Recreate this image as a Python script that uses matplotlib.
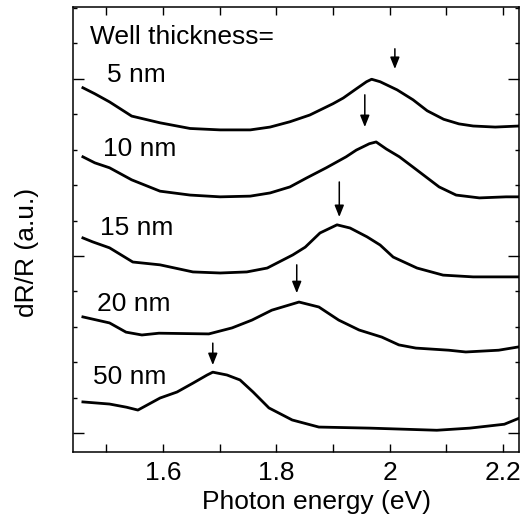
import matplotlib
matplotlib.use('Agg')
import matplotlib.pyplot as plt
from matplotlib.ticker import MultipleLocator, FuncFormatter

plt.rcParams['font.family'] = ['Liberation Sans', 'DejaVu Sans']

# spectra (offset, arbitrary units)
x5 = [1.459, 1.480, 1.506, 1.545, 1.595, 1.648, 1.701, 1.754, 1.789, 1.824, 1.859, 1.900, 1.918,
      1.941, 1.959, 1.968, 1.983, 2.013, 2.041, 2.066, 2.095, 2.122, 2.147, 2.186, 2.228]
y5 = [9.75, 9.58, 9.35, 8.95, 8.76, 8.60, 8.56, 8.56, 8.64, 8.79, 8.98, 9.30, 9.46,
      9.72, 9.92, 9.99, 9.92, 9.69, 9.41, 9.10, 8.86, 8.73, 8.67, 8.64, 8.67]

x10 = [1.459, 1.480, 1.506, 1.545, 1.595, 1.648, 1.701, 1.754, 1.789, 1.824, 1.853, 1.888, 1.923,
       1.941, 1.964, 1.976, 1.994, 2.017, 2.041, 2.064, 2.087, 2.117, 2.158, 2.205, 2.228]
y10 = [7.80, 7.63, 7.49, 7.15, 6.83, 6.72, 6.67, 6.69, 6.78, 6.95, 7.20, 7.49, 7.80,
       7.99, 8.17, 8.22, 8.02, 7.80, 7.51, 7.23, 6.95, 6.72, 6.64, 6.67, 6.67]

x15 = [1.459, 1.476, 1.506, 1.547, 1.595, 1.653, 1.701, 1.748, 1.784, 1.829, 1.851, 1.877, 1.907,
       1.930, 1.960, 1.983, 2.006, 2.048, 2.094, 2.147, 2.228]
y15 = [5.51, 5.40, 5.23, 4.83, 4.75, 4.55, 4.52, 4.55, 4.66, 5.03, 5.25, 5.65, 5.88,
       5.79, 5.54, 5.31, 4.97, 4.66, 4.46, 4.41, 4.41]

x20 = [1.459, 1.506, 1.535, 1.563, 1.593, 1.681, 1.722, 1.757, 1.792, 1.840, 1.875, 1.910, 1.946,
       1.986, 2.016, 2.046, 2.104, 2.134, 2.192, 2.226]
y20 = [3.28, 3.11, 2.85, 2.77, 2.82, 2.80, 2.97, 3.19, 3.47, 3.70, 3.56, 3.19, 2.91,
       2.71, 2.49, 2.40, 2.34, 2.29, 2.34, 2.43]

x50 = [1.459, 1.506, 1.536, 1.556, 1.595, 1.625, 1.653, 1.678, 1.688, 1.713, 1.736, 1.759, 1.787,
       1.828, 1.875, 1.965, 2.083, 2.141, 2.202, 2.228]
y50 = [0.88, 0.82, 0.73, 0.65, 0.99, 1.16, 1.41, 1.64, 1.72, 1.64, 1.50, 1.16, 0.71,
       0.37, 0.17, 0.14, 0.08, 0.14, 0.25, 0.42]

labels = ['5 nm', '10 nm', '15 nm', '20 nm', '50 nm']
label_y = [10.11, 8.02, 5.79, 3.64, 1.58]
label_x = [1.501, 1.494, 1.489, 1.484, 1.476]

# peak markers: energy, arrow top, arrow tip
peak_e = [2.009, 1.956, 1.911, 1.836, 1.688]
arrow_top = [10.85, 9.55, 7.09, 4.75, 2.54]
arrow_tip = [10.28, 8.64, 6.10, 3.95, 1.92]

fig, ax = plt.subplots(figsize=(5.27, 5.18), dpi=100)
fig.subplots_adjust(left=0.139, right=0.985, bottom=0.127, top=0.9865)

for xs, ys in [(x5, y5), (x10, y10), (x15, y15), (x20, y20), (x50, y50)]:
    ax.plot(xs, ys, color='black', lw=2.0, solid_joinstyle='round')

for e, y0, y1 in zip(peak_e, arrow_top, arrow_tip):
    ax.annotate('', xy=(e, y1), xytext=(e, y0),
                arrowprops=dict(arrowstyle='-|>,head_length=0.7,head_width=0.28',
                                color='black', lw=1.1, shrinkA=0, shrinkB=0))

ax.text(1.471, 11.19, 'Well thickness=', fontsize=19, va='center', ha='left')
for t, lx, ly in zip(labels, label_x, label_y):
    ax.text(lx, ly, t, fontsize=19, va='center', ha='left')

ax.set_xlim(1.442, 2.228)
ax.set_ylim(-0.54, 12.03)

ax.xaxis.set_major_locator(MultipleLocator(0.2))
ax.xaxis.set_minor_locator(MultipleLocator(0.1))
ax.xaxis.set_major_formatter(FuncFormatter(lambda v, p: f'{v:g}'))
ax.yaxis.set_major_locator(MultipleLocator(5))
ax.yaxis.set_minor_locator(MultipleLocator(1))
ax.tick_params(axis='x', which='both', direction='in', top=True, length=5.8, width=1.0,
               labelsize=19, pad=6)
ax.tick_params(axis='y', which='major', direction='in', right=True, length=7.9, width=1.0,
               labelleft=False)
ax.tick_params(axis='y', which='minor', direction='in', right=True, length=3.0, width=1.0)
for s in ax.spines.values():
    s.set_linewidth(1.1)

ax.set_xlabel('Photon energy (eV)', fontsize=19, va='center')
ax.xaxis.set_label_coords(0.545, -0.112)
ax.set_ylabel('dR/R (a.u.)', fontsize=19, va='center')
ax.yaxis.set_label_coords(-0.104, 0.449)

fig.savefig('out.png', dpi=100)
